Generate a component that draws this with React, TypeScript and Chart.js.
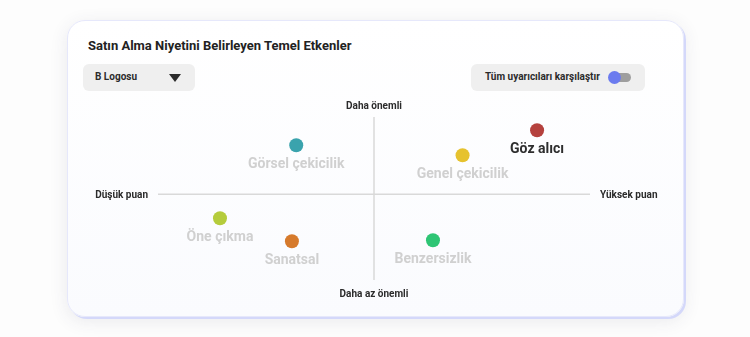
import React, { useEffect, useRef } from "react";
import { Chart, registerables } from "chart.js";

Chart.register(...registerables);

const factorNames = ["Görsel çekicilik", "Göz alıcı", "Genel çekicilik", "Öne çıkma", "Sanatsal", "Benzersizlik"];
const scoreValues = [-0.36, 0.755, 0.41, -0.713, -0.38, 0.273];
const importanceValues = [0.57, 0.746, 0.455, -0.28, -0.548, -0.536];
const pointColors = ["#3aa3ad", "#b5413d", "#e6c22e", "#b5cc3c", "#d67a2c", "#2ec574"];
const highlighted = ["Göz alıcı"];
const axisLabels = { top: "Daha önemli", bottom: "Daha az önemli", left: "Düşük puan", right: "Yüksek puan" };

const FONT = "Roboto, 'Open Sans', sans-serif";

const quadrantPlugin = {
  id: "quadrant",
  beforeDatasetsDraw(chart: any) {
    const { ctx, chartArea, scales } = chart;
    const x0 = scales.x.getPixelForValue(0);
    const y0 = scales.y.getPixelForValue(0);
    ctx.save();
    ctx.strokeStyle = "#d9d9d9";
    ctx.lineWidth = 1.5;
    ctx.beginPath();
    ctx.moveTo(chartArea.left, y0);
    ctx.lineTo(chartArea.right, y0);
    ctx.moveTo(x0, chartArea.top);
    ctx.lineTo(x0, chartArea.bottom);
    ctx.stroke();

    ctx.fillStyle = "#2b2b2b";
    ctx.font = `bold 10px ${FONT}`;
    ctx.textBaseline = "middle";
    ctx.textAlign = "center";
    ctx.fillText(axisLabels.top, x0, chartArea.top - 11);
    ctx.fillText(axisLabels.bottom, x0, chartArea.bottom + 14);
    ctx.textAlign = "right";
    ctx.fillText(axisLabels.left, chartArea.left - 10, y0 + 1);
    ctx.textAlign = "left";
    ctx.fillText(axisLabels.right, chartArea.right + 10, y0 + 1);
    ctx.restore();
  },
  afterDatasetsDraw(chart: any) {
    const { ctx } = chart;
    const meta = chart.getDatasetMeta(0);
    ctx.save();
    ctx.font = `bold 14px ${FONT}`;
    ctx.textAlign = "center";
    ctx.textBaseline = "middle";
    meta.data.forEach((el: any, i: number) => {
      const name = factorNames[i];
      ctx.fillStyle = highlighted.includes(name) ? "#2e2e2e" : "#d0d0d0";
      ctx.fillText(name, el.x, el.y + 19);
    });
    ctx.restore();
  },
};

function QuadrantChart() {
  const ref = useRef<HTMLCanvasElement>(null);
  useEffect(() => {
    if (!ref.current) return;
    const chart = new Chart(ref.current, {
      type: "scatter",
      data: {
        datasets: [
          {
            data: factorNames.map((_, i) => ({ x: scoreValues[i], y: importanceValues[i] })),
            backgroundColor: pointColors,
            borderColor: pointColors,
            pointRadius: 7,
            pointHoverRadius: 7,
            borderWidth: 0,
          },
        ],
      },
      options: {
        animation: false,
        responsive: false,
        maintainAspectRatio: false,
        layout: { padding: { left: 158, right: 160, top: 117, bottom: 57 } },
        plugins: { legend: { display: false }, tooltip: { enabled: false } },
        scales: {
          x: { type: "linear", min: -1, max: 1, display: false },
          y: { type: "linear", min: -1, max: 0.9, display: false },
        },
        events: [],
      },
      plugins: [quadrantPlugin],
    });
    return () => chart.destroy();
  }, []);
  return (
    <canvas
      ref={ref}
      width={750}
      height={337}
      style={{ position: "absolute", left: 0, top: 0, width: 750, height: 337, pointerEvents: "none" }}
    />
  );
}

export default function App() {
  return (
    <div style={{ position: "fixed", left: 0, top: 0, width: 750, height: 337, background: "#fdfdfd", fontFamily: FONT, overflow: "hidden" }}>
      <div
        style={{
          position: "absolute",
          left: 67,
          top: 20,
          width: 615,
          height: 295,
          borderRadius: 18,
          background: "linear-gradient(180deg, #ffffff 0%, #fafbfe 100%)",
          border: "1px solid #e6e8fb",
          boxShadow: "2px 2px 0 #d4d8fa, 0 4px 18px rgba(60,60,90,0.10)",
        }}
      />
      <div style={{ position: "absolute", left: 88, top: 38, fontSize: 13, fontWeight: 700, color: "#222", whiteSpace: "nowrap" }}>
        Satın Alma Niyetini Belirleyen Temel Etkenler
      </div>
      <div
        style={{
          position: "absolute",
          left: 83,
          top: 64,
          width: 112,
          height: 27,
          borderRadius: 6,
          background: "#efefef",
        }}
      >
        <span style={{ position: "absolute", left: 12, top: 7, fontSize: 10, fontWeight: 700, color: "#2b2b2b" }}>B Logosu</span>
        <span
          style={{
            position: "absolute",
            left: 86,
            top: 10,
            width: 0,
            height: 0,
            borderLeft: "6px solid transparent",
            borderRight: "6px solid transparent",
            borderTop: "8px solid #2b2b2b",
          }}
        />
      </div>
      <div
        style={{
          position: "absolute",
          left: 471,
          top: 64,
          width: 174,
          height: 27,
          borderRadius: 6,
          background: "#efefef",
        }}
      >
        <span style={{ position: "absolute", left: 14, top: 7, fontSize: 10, fontWeight: 700, color: "#2b2b2b", whiteSpace: "nowrap" }}>
          Tüm uyarıcıları karşılaştır
        </span>
        <span style={{ position: "absolute", left: 140, top: 9, width: 20, height: 9, borderRadius: 5, background: "#9e9e9e" }} />
        <span style={{ position: "absolute", left: 137, top: 7, width: 13, height: 13, borderRadius: 7, background: "#6b7bef" }} />
      </div>
      <QuadrantChart />
    </div>
  );
}
